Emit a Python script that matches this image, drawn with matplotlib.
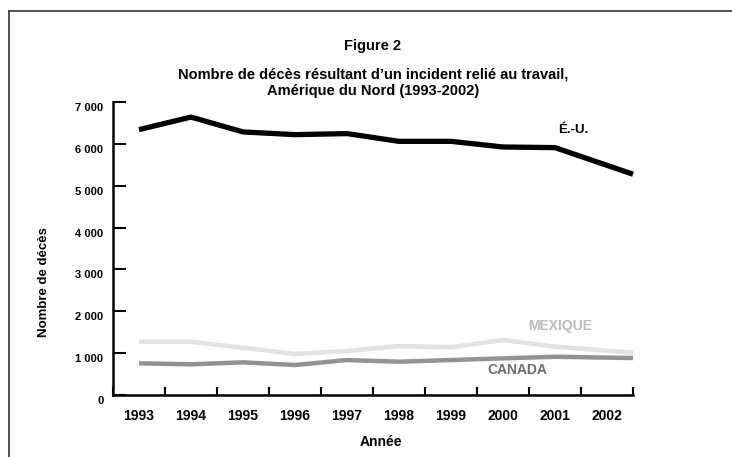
import numpy as np
import matplotlib
matplotlib.use('Agg')
import matplotlib.pyplot as plt
from matplotlib.lines import Line2D
import matplotlib.transforms as mtransforms

plt.rcParams['font.family'] = ['Liberation Sans', 'DejaVu Sans']
plt.rcParams['font.weight'] = 'bold'

# data
years = ['1993', '1994', '1995', '1996', '1997', '1998', '1999', '2000', '2001', '2002']
usa = [6340, 6640, 6285, 6220, 6245, 6060, 6060, 5925, 5910, 5275]
mexique = [1270, 1270, 1130, 980, 1050, 1170, 1140, 1315, 1155, 1010]
canada = [757, 733, 780, 716, 835, 795, 835, 875, 914, 883]
yticks = [0, 1000, 2000, 3000, 4000, 5000, 6000, 7000]

fig = plt.figure(figsize=(7.32, 4.57), dpi=100)
ax = fig.add_axes([113 / 732, 62 / 457, 520 / 732, 293 / 457])

# last point of each series is drawn at the right end of the axis
xs = np.arange(len(years), dtype=float)
xs[-1] = len(years) - 0.5

ax.plot(xs, mexique, color='#e2e2e2', lw=3.2, solid_capstyle='butt', clip_on=False)
ax.plot(xs, canada, color='#939393', lw=3.2, solid_capstyle='butt', clip_on=False)
ax.plot(xs, usa, color='black', lw=3.8, solid_capstyle='butt', clip_on=False)

ax.set_xlim(-0.5, len(years) - 0.5)
ax.set_ylim(0, 7000)

for s in ['top', 'right']:
    ax.spines[s].set_visible(False)
for s in ['left', 'bottom']:
    ax.spines[s].set_linewidth(1.8)

ax.set_yticks(yticks)
ax.set_yticklabels(['{:,}'.format(v).replace(',', ' ') for v in yticks])
ax.tick_params(axis='y', direction='in', length=9.5, width=1.5, pad=7, labelsize=8)
off = mtransforms.ScaledTranslation(0, -5 / 100, fig.dpi_scale_trans)
for lab in ax.get_yticklabels():
    lab.set_transform(lab.get_transform() + off)

ax.set_xticks(np.arange(len(years) + 1) - 0.5)
ax.set_xticklabels([])
ax.set_xticks(np.arange(len(years)), minor=True)
ax.set_xticklabels(years, minor=True)
ax.tick_params(axis='x', which='major', direction='in', length=6, width=1.5)
ax.tick_params(axis='x', which='minor', length=0, pad=10, labelsize=10)

fig.text(44 / 732, (457 - 282) / 457, 'Nombre de décès', fontsize=9.5,
         rotation=90, ha='center', va='center')
fig.text(381 / 732, (457 - 442) / 457, 'Année', fontsize=10, ha='center', va='center')

fig.text(573 / 732, (457 - 130) / 457, 'É.-U.', fontsize=9.5,
         ha='center', va='center', color='black')
fig.text(560 / 732, (457 - 326) / 457, 'MEXIQUE', fontsize=10,
         ha='center', va='center', color='#bcbcbc')
fig.text(517 / 732, (457 - 370) / 457, 'CANADA', fontsize=10,
         ha='center', va='center', color='#6c6c6c')

fig.text(373 / 732, (457 - 46) / 457, 'Figure 2', fontsize=10.5, ha='center', va='center')
fig.text(373 / 732, (457 - 83) / 457,
         'Nombre de décès résultant d’un incident relié au travail,\nAmérique du Nord (1993-2002)',
         fontsize=10.5, ha='center', va='center', linespacing=1.25)

# frame around the figure (left and top only)
fig.add_artist(Line2D([9 / 732, 9 / 732], [0, 446 / 457], color='#333333', lw=1.2))
fig.add_artist(Line2D([9 / 732, 1], [446 / 457, 446 / 457], color='#333333', lw=1.2))

fig.savefig('out.png', dpi=100)
